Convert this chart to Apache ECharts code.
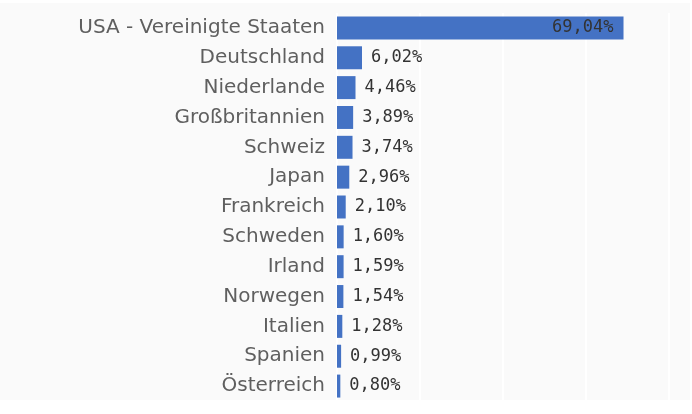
<!DOCTYPE html>
<html>
<head>
<meta charset="utf-8">
<script src="https://cdn.jsdelivr.net/npm/echarts@6/dist/echarts.min.js"></script>
<style>
  html, body { margin: 0; padding: 0; background: #fff; }
  #chart { width: 692px; height: 414px; }
</style>
</head>
<body>
<div id="chart"></div>
<script>
// Länder und Anteile (in %)
var countries = ['USA - Vereinigte Staaten', 'Deutschland', 'Niederlande', 'Großbritannien', 'Schweiz',
    'Japan', 'Frankreich', 'Schweden', 'Irland', 'Norwegen', 'Italien', 'Spanien', 'Österreich'];
var shares = [69.04, 6.02, 4.46, 3.89, 3.74, 2.96, 2.10, 1.60, 1.59, 1.54, 1.28, 0.99, 0.80];

var fmt = function (v) {
    return v.toFixed(2).replace('.', ',') + '%';
};

var barData = [];
for (var i = 0; i < shares.length; i++) {
    var item = { value: shares[i] };
    if (i == 0) {
        // größter Balken: Wert innen rechts
        item.label = { position: 'insideRight', distance: 10 };
    }
    barData.push(item);
}

var myChart = echarts.init(document.getElementById('chart'));
var option = {
    backgroundColor: '#fff',
    animation: false,
    graphic: [{
        type: 'rect',
        z: -10,
        silent: true,
        shape: { x: 0, y: 3, width: 690, height: 397 },
        style: { fill: '#fafafa' }
    }],
    grid: {
        left: 337,
        right: 23,
        top: 13,
        bottom: 13,
        containLabel: false
    },
    xAxis: {
        type: 'value',
        min: 0,
        max: 80,
        interval: 20,
        axisLabel: { show: false },
        axisLine: { show: false },
        axisTick: { show: false },
        splitLine: { show: true, lineStyle: { color: '#ffffff', width: 2 } }
    },
    yAxis: {
        type: 'category',
        inverse: true,
        data: countries,
        axisLine: { show: false },
        axisTick: { show: false },
        axisLabel: {
            margin: 12,
            color: '#5f5f5f',
            fontFamily: 'DejaVu Sans',
            fontSize: 20
        }
    },
    series: [{
        type: 'bar',
        data: barData,
        barCategoryGap: '23%',
        itemStyle: { color: '#4472C4' },
        label: {
            show: true,
            position: 'right',
            distance: 9,
            color: '#333',
            fontFamily: 'DejaVu Sans Mono',
            fontSize: 17,
            formatter: function (p) { return fmt(p.value); }
        }
    }]
};
myChart.setOption(option);
</script>
</body>
</html>
